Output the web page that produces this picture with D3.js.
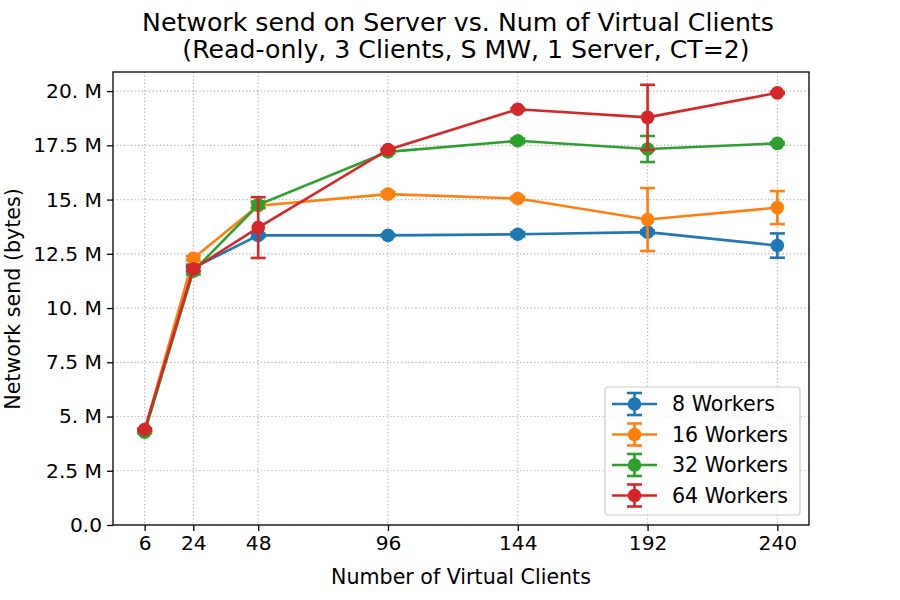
<!DOCTYPE html>
<html>
<head>
<meta charset="utf-8">
<script src="https://cdn.jsdelivr.net/npm/d3@7"></script>
<style>
  body { margin: 0; background: #fff; }
  svg text { font-family: "DejaVu Sans", sans-serif; }
</style>
</head>
<body>
<div id="chart"></div>
<script>
// x positions (number of virtual clients)
const clients = [6, 24, 48, 96, 144, 192, 240];
const yTicks = [0, 2.5, 5, 7.5, 10, 12.5, 15, 17.5, 20];
const yTickLabels = ["0.0", "2.5 M", "5. M", "7.5 M", "10. M", "12.5 M", "15. M", "17.5 M", "20. M"];

// values in millions of bytes
const workers8 = [4.33, 11.85, 13.35, 13.35, 13.40, 13.50, 12.88];
const workers16 = [4.36, 12.29, 14.72, 15.25, 15.05, 14.08, 14.63];
const workers32 = [4.28, 11.70, 14.76, 17.20, 17.71, 17.33, 17.59];
const workers64 = [4.40, 11.80, 13.71, 17.30, 19.16, 18.79, 19.92];

const err8 = [0.05, 0.15, 0.08, 0.05, 0.1, 0.08, 0.56];
const err16 = [0.05, 0.1, 0.1, 0.1, 0.08, 1.45, 0.76];
const err32 = [0.05, 0.15, 0.15, 0.08, 0.1, 0.6, 0.05];
const err64 = [0.05, 0.1, 1.4, 0.05, 0.05, 1.5, 0.05];

const seriesNames = ["8 Workers", "16 Workers", "32 Workers", "64 Workers"];
const colors = ["#1f77b4", "#ff7f0e", "#2ca02c", "#d62728"];

const series = [
  { name: seriesNames[0], values: workers8, errs: err8, color: colors[0] },
  { name: seriesNames[1], values: workers16, errs: err16, color: colors[1] },
  { name: seriesNames[2], values: workers32, errs: err32, color: colors[2] },
  { name: seriesNames[3], values: workers64, errs: err64, color: colors[3] }
];

const W = 900, H = 600;
const margin = { top: 72, right: 91, bottom: 75, left: 113 };
const width = W - margin.left - margin.right;
const height = H - margin.top - margin.bottom;
const fs = "20.2px";
const fsLabel = "20.6px";

const svg = d3.select("#chart").append("svg")
  .attr("width", W).attr("height", H);

const g = svg.append("g")
  .attr("transform", `translate(${margin.left},${margin.top})`);

const x = d3.scaleLinear().domain([-5.7, 251.7]).range([0, width]);
const y = d3.scaleLinear().domain([0, 20.88]).range([height, 0]);

// grid
g.append("g").selectAll("line").data(clients).join("line")
  .attr("x1", d => x(d)).attr("x2", d => x(d))
  .attr("y1", 0).attr("y2", height)
  .attr("stroke", "#b0b0b0").attr("stroke-width", 1.2)
  .attr("stroke-dasharray", "1.2,2.4");
g.append("g").selectAll("line").data(yTicks).join("line")
  .attr("x1", 0).attr("x2", width)
  .attr("y1", d => y(d)).attr("y2", d => y(d))
  .attr("stroke", "#b0b0b0").attr("stroke-width", 1.2)
  .attr("stroke-dasharray", "1.2,2.4");

// axes
const xAxis = g.append("g")
  .attr("transform", `translate(0,${height})`)
  .call(d3.axisBottom(x).tickValues(clients).tickSize(6).tickPadding(5));
const yAxis = g.append("g")
  .call(d3.axisLeft(y).tickValues(yTicks).tickSize(6).tickPadding(5)
    .tickFormat((d, i) => yTickLabels[i]));
[xAxis, yAxis].forEach(a => {
  a.select(".domain").remove();
  a.selectAll("line").attr("stroke", "#000").attr("stroke-width", 1.3);
  a.selectAll("text").attr("font-size", fs).attr("fill", "#000");
});

// frame
g.append("rect").attr("width", width).attr("height", height)
  .attr("fill", "none").attr("stroke", "#000").attr("stroke-width", 1.3);

const line = d3.line().x((d, i) => x(clients[i])).y(d => y(d));

series.forEach(s => {
  const sg = g.append("g");
  // error bars
  clients.forEach((c, i) => {
    const cx = x(c);
    const top = y(s.values[i] + s.errs[i]);
    const bot = y(s.values[i] - s.errs[i]);
    sg.append("line").attr("x1", cx).attr("x2", cx).attr("y1", top).attr("y2", bot)
      .attr("stroke", s.color).attr("stroke-width", 2.6);
    [top, bot].forEach(yy => sg.append("line")
      .attr("x1", cx - 7.5).attr("x2", cx + 7.5).attr("y1", yy).attr("y2", yy)
      .attr("stroke", s.color).attr("stroke-width", 2.6));
  });
  sg.append("path").datum(s.values)
    .attr("fill", "none").attr("stroke", s.color).attr("stroke-width", 2.6)
    .attr("d", line);
  sg.selectAll("circle").data(s.values).join("circle")
    .attr("cx", (d, i) => x(clients[i])).attr("cy", d => y(d))
    .attr("r", 6.8).attr("fill", s.color);
});

// legend
const lg = svg.append("g").attr("transform", "translate(605,387)");
lg.append("rect").attr("width", 195).attr("height", 128).attr("rx", 3)
  .attr("fill", "#fff").attr("fill-opacity", 0.8)
  .attr("stroke", "#ccc").attr("stroke-width", 1.2);
series.forEach((s, i) => {
  const ly = 17 + i * 30.5;
  const e = lg.append("g").attr("transform", `translate(0,${ly})`);
  e.append("line").attr("x1", 7).attr("x2", 52).attr("y1", 0).attr("y2", 0)
    .attr("stroke", s.color).attr("stroke-width", 2.6);
  e.append("line").attr("x1", 29.5).attr("x2", 29.5).attr("y1", -11).attr("y2", 11)
    .attr("stroke", s.color).attr("stroke-width", 2.6);
  [-11, 11].forEach(v => e.append("line").attr("x1", 22).attr("x2", 37)
    .attr("y1", v).attr("y2", v).attr("stroke", s.color).attr("stroke-width", 2.6));
  e.append("circle").attr("cx", 29.5).attr("cy", 0).attr("r", 6.8).attr("fill", s.color);
  e.append("text").attr("x", 67).attr("y", 0).attr("dy", "0.35em")
    .attr("font-size", fsLabel).text(s.name);
});

// title and labels
const title = svg.append("text").attr("text-anchor", "middle")
  .attr("font-size", "25.2px");
title.append("tspan").attr("x", 458).attr("y", 31)
  .text("Network send on Server vs. Num of Virtual Clients");
title.append("tspan").attr("x", 466).attr("y", 58)
  .text("(Read-only, 3 Clients, S MW, 1 Server, CT=2)");

svg.append("text").attr("x", 461).attr("y", 584).attr("text-anchor", "middle")
  .attr("font-size", fsLabel).text("Number of Virtual Clients");

svg.append("text").attr("transform", "translate(20,299) rotate(-90)")
  .attr("text-anchor", "middle").attr("font-size", fsLabel)
  .text("Network send (bytes)");
</script>
</body>
</html>
